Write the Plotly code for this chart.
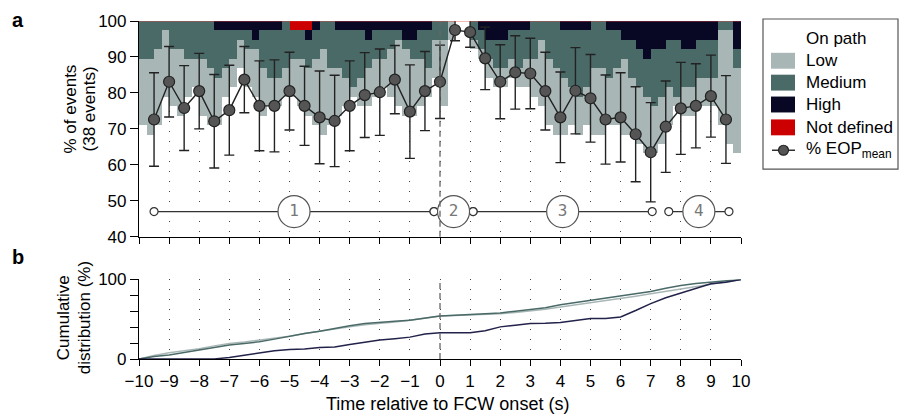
import numpy as np
import plotly.graph_objects as go

# ---------------- data ----------------
N_EVENTS = 38
BIN_W = 0.25          # width of a time bin (s)
T0 = -10.0            # first bin edge (s)

# event counts (out of 38) per 0.25 s bin from -10 s to +10 s
low_cnt = [7, 8, 8, 7, 6, 7, 4, 3, 6, 6,
           5, 3, 3, 3, 4, 5, 5, 3, 3, 3,
           4, 5, 5, 7, 9, 6, 5, 3, 1, 3,
           4, 4, 3, 5, 7, 7, 6, 5, 3, 4,
           7, 2, 0, 0, 1, 1, 2, 2, 2, 2,
           2, 3, 4, 7, 7, 7, 6, 4, 4, 4,
           7, 7, 5, 6, 8, 6, 6, 6, 5, 5,
           4, 1, 3, 3, 3, 3, 3, 10, 12, 9]
med_cnt = [4, 4, 3, 1, 3, 3, 4, 4, 4, 5,
           5, 4, 3, 1, 2, 1, 4, 5, 5, 5,
           3, 3, 3, 3, 3, 5, 4, 5, 6, 5,
           3, 3, 3, 2, 1, 1, 2, 3, 4, 2,
           2, 0, 0, 0, 2, 2, 2, 3, 3, 3,
           4, 3, 4, 2, 4, 5, 5, 6, 7, 6,
           5, 5, 5, 4, 2, 4, 4, 4, 6, 5,
           5, 6, 4, 4, 4, 4, 4, 1, 1, 2]
high_cnt = [0, 0, 0, 0, 0, 0, 0, 0, 0, 0,
            1, 1, 1, 1, 1, 2, 1, 1, 1, 0,
            0, 0, 1, 1, 0, 0, 1, 1, 1, 1,
            2, 1, 1, 1, 1, 2, 2, 1, 1, 0,
            0, 0, 0, 0, 0, 1, 2, 2, 2, 1,
            1, 1, 0, 0, 0, 0, 1, 1, 1, 1,
            0, 0, 1, 1, 2, 2, 3, 4, 3, 3,
            2, 2, 3, 3, 2, 2, 2, 0, 0, 3]
nd_cnt = [0] * 20 + [1, 1, 1] + [0] * 57

# mean % eyes-on-path with standard deviation
t_mean = [-9.5, -9.0, -8.5, -8.0, -7.5, -7.0, -6.5, -6.0, -5.5, -5.0,
          -4.5, -4.0, -3.5, -3.0, -2.5, -2.0, -1.5, -1.0, -0.5, 0.0,
          0.5, 1.0, 1.5, 2.0, 2.5, 3.0, 3.5, 4.0, 4.5, 5.0,
          5.5, 6.0, 6.5, 7.0, 7.5, 8.0, 8.5, 9.0, 9.5]
eop_mean = [72.6, 83.1, 75.8, 80.5, 72.1, 75.2, 83.7, 76.4, 76.4, 80.5,
            76.4, 73.2, 72.2, 76.4, 79.4, 80.2, 83.7, 74.8, 80.5, 83.1,
            97.5, 96.9, 89.6, 83.1, 85.7, 85.4, 80.5, 73.2, 80.6, 78.5,
            72.6, 73.2, 68.5, 63.5, 70.6, 75.7, 76.4, 79.1, 72.6]
eop_sd = [13.0, 9.8, 11.8, 10.5, 13.0, 12.5, 9.2, 12.5, 12.8, 10.8,
          11.0, 12.9, 12.7, 12.5, 11.8, 12.0, 9.5, 13.0, 11.0, 10.2,
          3.0, 4.2, 8.7, 10.3, 10.2, 9.8, 10.8, 12.6, 12.0, 12.2,
          12.4, 12.4, 13.2, 13.8, 12.7, 12.8, 11.7, 11.4, 12.2]

# cumulative distribution (%) of each on-path level
cum_t = [-10.0, -9.5, -9.0, -8.5, -8.0, -7.5, -7.0, -6.5, -6.0, -5.5,
         -5.0, -4.5, -4.0, -3.5, -3.0, -2.5, -2.0, -1.5, -1.0, -0.5,
         0.0, 0.5, 1.0, 1.5, 2.0, 2.5, 3.0, 3.5, 4.0, 4.5,
         5.0, 5.5, 6.0, 6.5, 7.0, 7.5, 8.0, 8.5, 9.0, 9.5, 10.0]
cum_low = [0, 4.5, 8, 10.5, 13, 16.5, 19.6, 21.5, 23.8, 26,
           28.7, 32, 35, 37.5, 40.4, 43, 44.6, 46.5, 48.8, 51.5,
           54.2, 54.8, 55.5, 56, 57, 58.5, 60.4, 62.5, 65.4, 68,
           70.4, 73, 75.8, 79, 82, 85, 88.3, 91, 93.8, 97, 100]
cum_med = [0, 3, 5, 8, 11, 14.5, 17.5, 19.5, 21.7, 25,
           28.7, 32, 35, 38.5, 41.7, 44.5, 46.3, 47.5, 48.8, 51.5,
           54.2, 55, 55.8, 56.5, 57.9, 60, 62, 64.5, 68.3, 71,
           73.8, 76, 78.8, 82, 85, 89, 92.5, 95, 96.7, 98, 100]
cum_high = [0, 0, 0, 0, 0, 0, 2, 5, 8, 10.5,
            12, 12.5, 14.6, 15, 18.3, 21, 23.8, 25.5, 27.5, 31.5,
            33, 33, 33, 35.5, 40.4, 42.5, 44.6, 44.8, 45.8, 48.5,
            50.8, 51, 52.9, 61, 69.6, 77, 82.9, 88, 94.6, 96.5, 100]

# phases
phase_labels = ["1", "2", "3", "4"]
phase_start = [-9.5, -0.2, 1.1, 7.6]
phase_end = [-0.2, 1.1, 7.05, 9.6]
phase_y = 47

# ---------------- style ----------------
C_LOW = "#a8b7b6"
C_MED = "#4a6a68"
C_HIGH = "#080824"
C_ND = "#cc0000"
C_HIGH_LINE = "#22224a"
FONT = "Liberation Sans, Arial, sans-serif"

# pixel geometry of the page
L, R, T, B = 139, 741, 19, 359
W, H = R - L, B - T


def pxx(x):
    return (x - L) / W


def pxy(y):
    return (B - y) / H


top_dom = [pxy(236), 1.0]
bot_dom = [0.0, pxy(279)]

n_bins = len(low_cnt)
bin_x = T0 + BIN_W * (np.arange(n_bins) + 0.5)
to_pct = lambda a: np.asarray(a, float) * 100.0 / N_EVENTS
low_p, med_p, high_p, nd_p = map(to_pct, (low_cnt, med_cnt, high_cnt, nd_cnt))
gap_p = 100.0 - (low_p + med_p + high_p + nd_p)

fig = go.Figure()

for vals, col, name in [(gap_p, "rgba(0,0,0,0)", "gap"), (low_p, C_LOW, "Low"),
                        (med_p, C_MED, "Medium"), (high_p, C_HIGH, "High"),
                        (nd_p, C_ND, "Not defined")]:
    fig.add_trace(go.Bar(x=bin_x, y=vals, width=BIN_W, marker=dict(color=col, line=dict(width=0)),
                         name=name, showlegend=False, xaxis="x", yaxis="y", hoverinfo="skip"))

# phases
for lab, s, e in zip(phase_labels, phase_start, phase_end):
    fig.add_trace(go.Scatter(x=[s, e], y=[phase_y, phase_y], mode="lines+markers",
                             line=dict(color="#333333", width=1.3),
                             marker=dict(size=8, color="white", line=dict(color="#333333", width=1.2)),
                             showlegend=False, xaxis="x", yaxis="y", cliponaxis=False))
fig.add_trace(go.Scatter(x=[(s + e) / 2 for s, e in zip(phase_start, phase_end)],
                         y=[phase_y] * len(phase_labels), mode="markers+text",
                         text=phase_labels, textposition="middle center",
                         textfont=dict(family="DejaVu Sans Mono, Liberation Mono, monospace", size=16, color="#777777"),
                         marker=dict(size=32, color="white", line=dict(color="#555555", width=1.2)),
                         showlegend=False, xaxis="x", yaxis="y"))

# mean % EOP
fig.add_trace(go.Scatter(x=t_mean, y=eop_mean, mode="lines+markers",
                         line=dict(color="#222222", width=1.4),
                         marker=dict(size=11, color="#555555", line=dict(color="#222222", width=1.2)),
                         error_y=dict(type="data", array=eop_sd, color="#222222", thickness=1.4, width=5),
                         showlegend=False, xaxis="x", yaxis="y"))

# cumulative
for vals, col in [(cum_low, C_LOW), (cum_med, C_MED), (cum_high, C_HIGH_LINE)]:
    fig.add_trace(go.Scatter(x=cum_t, y=vals, mode="lines", line=dict(color=col, width=1.5),
                             showlegend=False, xaxis="x2", yaxis="y2"))

tickfont = dict(family=FONT, size=17, color="black")
grid_common = dict(showgrid=True, gridcolor="#444444", griddash="1px,9px", gridwidth=1,
                   zeroline=False, showline=True, linecolor="black", linewidth=1.2,
                   ticks="outside", ticklen=6, tickcolor="black", tickwidth=1.2,
                   range=[-10, 10], dtick=1, tick0=0)
yaxis_common = dict(showgrid=False, zeroline=False, showline=True, linecolor="black", linewidth=1.2,
                    ticks="outside", ticklen=8, tickcolor="black", tickwidth=1.2, tickfont=tickfont)

shapes = []
# vertical dashed line at onset
for xr, yr in [("x", "y domain"), ("x2", "y2 domain")]:
    shapes.append(dict(type="line", xref=xr, yref=yr, x0=0, x1=0, y0=0, y1=1, layer="above",
                       line=dict(color="#666666", width=1.3, dash="6px,4px")))
# thin red rim along the top of the stack
shapes.append(dict(type="line", xref="x", yref="y", x0=-10, x1=10, y0=100, y1=100, layer="above",
                   line=dict(color="rgba(225,70,70,0.75)", width=1.2)))

annotations = []
# ------------- custom legend -------------
LEG_FONT = dict(family=FONT, size=17, color="black")
shapes.append(dict(type="rect", xref="paper", yref="paper", x0=pxx(763), x1=pxx(898),
                   y0=pxy(168), y1=pxy(17), line=dict(color="#555555", width=1.2), fillcolor="white"))
annotations.append(dict(xref="paper", yref="paper", x=pxx(804), y=pxy(37), text="On path", showarrow=False,
                        xanchor="left", yanchor="middle", font=LEG_FONT))
for yc, col, name in [(59, C_LOW, "Low"), (81, C_MED, "Medium"), (103, C_HIGH, "High"),
                      (126, C_ND, "Not defined")]:
    shapes.append(dict(type="rect", xref="paper", yref="paper", x0=pxx(771), x1=pxx(795),
                       y0=pxy(yc + 8), y1=pxy(yc - 8), line=dict(width=0), fillcolor=col))
    annotations.append(dict(xref="paper", yref="paper", x=pxx(804), y=pxy(yc), text=name, showarrow=False,
                            xanchor="left", yanchor="middle", font=LEG_FONT))
shapes.append(dict(type="line", xref="paper", yref="paper", x0=pxx(772), x1=pxx(795), y0=pxy(149), y1=pxy(149),
                   line=dict(color="#222222", width=1.4)))
shapes.append(dict(type="circle", xref="paper", yref="paper", x0=pxx(783.5 - 5), x1=pxx(783.5 + 5),
                   y0=pxy(149 + 5), y1=pxy(149 - 5), fillcolor="#555555", line=dict(color="#222222", width=1.2)))
annotations.append(dict(xref="paper", yref="paper", x=pxx(804), y=pxy(149), text="% EOP<sub>mean</sub>",
                        showarrow=False, xanchor="left", yanchor="middle", font=LEG_FONT))

# axis titles (one annotation per line) and panel letters
for txt, xc, yc in [("% of events", 70, 108), ("(38 events)", 89, 108),
                    ("Cumulative", 63, 318), ("distribution (%)", 84, 318)]:
    annotations.append(dict(xref="paper", yref="paper", x=pxx(xc), y=pxy(yc), text=txt, textangle=-90,
                            showarrow=False, xanchor="center", yanchor="middle",
                            font=dict(family=FONT, size=17, color="black")))
annotations += [
    dict(xref="paper", yref="paper", x=pxx(447), y=pxy(404), text="Time relative to FCW onset (s)",
         showarrow=False, xanchor="center", yanchor="middle", font=dict(family=FONT, size=18, color="black")),
    dict(xref="paper", yref="paper", x=pxx(18), y=pxy(18), text="<b>a</b>", showarrow=False,
         xanchor="center", yanchor="middle", font=dict(family=FONT, size=20, color="black")),
    dict(xref="paper", yref="paper", x=pxx(18), y=pxy(256), text="<b>b</b>", showarrow=False,
         xanchor="center", yanchor="middle", font=dict(family=FONT, size=20, color="black")),
]

fig.update_layout(
    width=902, height=416,
    margin=dict(l=L, r=902 - R, t=T, b=416 - B, pad=0),
    paper_bgcolor="white", plot_bgcolor="white",
    barmode="stack", bargap=0,
    showlegend=False,
    font=dict(family=FONT, size=17, color="black"),
    xaxis=dict(domain=[0, 1], anchor="y", showticklabels=False, **grid_common),
    yaxis=dict(domain=top_dom, anchor="x", range=[40, 100], dtick=10, **yaxis_common),
    xaxis2=dict(domain=[0, 1], anchor="y2", showticklabels=True, tickfont=tickfont, **grid_common),
    yaxis2=dict(domain=bot_dom, anchor="x2", range=[0, 100], tickvals=[0, 100],
                minor=dict(tickvals=[20, 40, 60, 80], ticks="outside", ticklen=8,
                           tickcolor="black", tickwidth=1.2, showgrid=False),
                **yaxis_common),
    shapes=shapes,
    annotations=annotations,
)

fig.write_html("out.html")
